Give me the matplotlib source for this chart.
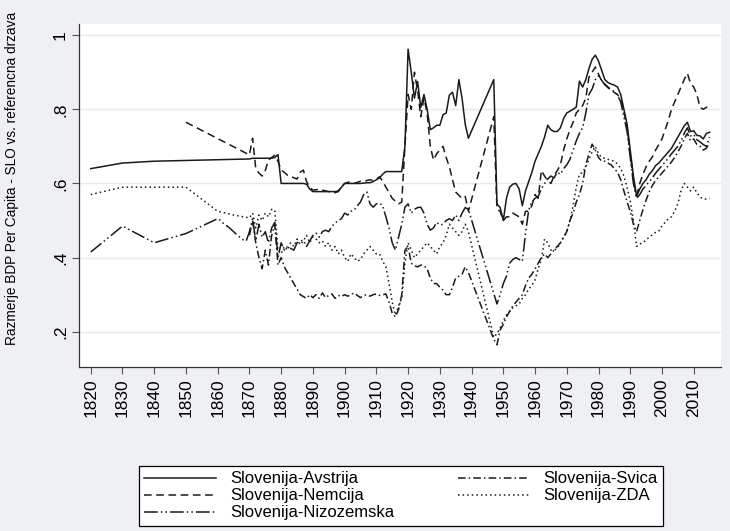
import numpy as np
import matplotlib.pyplot as plt

plt.rcParams['font.family'] = ['Liberation Sans', 'DejaVu Sans']

# ---- data: (year, ratio) ----
avstrija = [
    (1820, .640), (1830, .655), (1840, .660), (1850, .662), (1860, .664), (1870, .666),
    (1871, .668), (1872, .668), (1873, .668), (1874, .668), (1875, .668), (1876, .668),
    (1877, .668), (1878, .670), (1879, .678), (1880, .600), (1881, .600), (1882, .600),
    (1883, .600), (1884, .600), (1885, .600), (1886, .600), (1887, .600), (1888, .598),
    (1889, .585), (1890, .578), (1891, .578), (1892, .578), (1893, .578), (1894, .578),
    (1895, .578), (1896, .578), (1897, .578), (1898, .580), (1899, .590), (1900, .600),
    (1901, .600), (1902, .600), (1903, .600), (1904, .600), (1905, .600), (1906, .601),
    (1907, .602), (1908, .602), (1909, .605), (1910, .610), (1911, .615), (1912, .625),
    (1913, .632), (1914, .632), (1915, .632), (1916, .632), (1917, .632), (1918, .632),
    (1919, .700), (1920, .962), (1921, .900), (1922, .830), (1923, .875), (1924, .805),
    (1925, .840), (1926, .800), (1927, .745), (1928, .750), (1929, .757), (1930, .757),
    (1931, .785), (1932, .790), (1933, .838), (1934, .846), (1935, .810), (1936, .880),
    (1937, .830), (1938, .760), (1939, .722), (1947, .880), (1948, .545), (1949, .535),
    (1950, .500), (1951, .560), (1952, .590), (1953, .598), (1954, .600), (1955, .585),
    (1956, .540), (1957, .580), (1958, .605), (1959, .630), (1960, .660), (1961, .680),
    (1962, .700), (1963, .725), (1964, .757), (1965, .745), (1966, .740), (1967, .740),
    (1968, .750), (1969, .775), (1970, .790), (1971, .795), (1972, .800), (1973, .806),
    (1974, .876), (1975, .860), (1976, .880), (1977, .910), (1978, .935), (1979, .946),
    (1980, .930), (1981, .905), (1982, .880), (1983, .872), (1984, .868), (1985, .865),
    (1986, .860), (1987, .840), (1988, .800), (1989, .760), (1990, .690), (1991, .620),
    (1992, .565), (1993, .585), (1994, .600), (1995, .610), (1996, .625), (1997, .635),
    (1998, .648), (1999, .655), (2000, .665), (2001, .675), (2002, .685), (2003, .695),
    (2004, .710), (2005, .725), (2006, .740), (2007, .755), (2008, .765), (2009, .740),
    (2010, .742), (2011, .730), (2012, .728), (2013, .720), (2014, .735), (2015, .738),
]

nemcija = [
    (1850, .765), (1870, .677), (1871, .722), (1872, .640), (1873, .628), (1874, .620),
    (1875, .635), (1876, .663), (1877, .670), (1878, .676), (1879, .660), (1880, .636),
    (1881, .630), (1882, .622), (1883, .620), (1884, .615), (1885, .612), (1886, .630),
    (1887, .636), (1888, .605), (1889, .590), (1890, .582), (1891, .583), (1892, .585),
    (1893, .582), (1894, .580), (1895, .578), (1896, .577), (1897, .575), (1898, .578),
    (1899, .590), (1900, .600), (1901, .603), (1902, .605), (1903, .600), (1904, .603),
    (1905, .606), (1906, .605), (1907, .608), (1908, .610), (1909, .608), (1910, .612),
    (1911, .618), (1912, .606), (1913, .590), (1914, .575), (1915, .560), (1916, .552),
    (1917, .545), (1918, .550), (1919, .700), (1920, .840), (1921, .800), (1922, .900),
    (1923, .850), (1924, .780), (1925, .830), (1926, .790), (1927, .700), (1928, .663),
    (1929, .680), (1930, .690), (1931, .700), (1932, .670), (1933, .645), (1934, .610),
    (1935, .577), (1936, .568), (1937, .560), (1938, .565), (1939, .525), (1947, .780),
    (1948, .530), (1949, .525), (1950, .500), (1951, .510), (1952, .510), (1953, .520),
    (1954, .515), (1955, .510), (1956, .490), (1957, .525), (1958, .525), (1959, .540),
    (1960, .570), (1961, .560), (1962, .635), (1963, .620), (1964, .607), (1965, .600),
    (1966, .620), (1967, .635), (1968, .650), (1969, .690), (1970, .720), (1971, .745),
    (1972, .765), (1973, .790), (1974, .800), (1975, .810), (1976, .830), (1977, .887),
    (1978, .900), (1979, .914), (1980, .895), (1981, .876), (1982, .868), (1983, .860),
    (1984, .852), (1985, .845), (1986, .840), (1987, .825), (1988, .795), (1989, .750),
    (1990, .680), (1991, .610), (1992, .565), (1993, .600), (1994, .625), (1995, .645),
    (1996, .660), (1997, .672), (1998, .690), (1999, .705), (2000, .720), (2001, .745),
    (2002, .770), (2003, .800), (2004, .820), (2005, .840), (2006, .860), (2007, .880),
    (2008, .897), (2009, .870), (2010, .860), (2011, .840), (2012, .805), (2013, .800),
    (2014, .805), (2015, .815),
]

nizozemska = [
    (1820, .415), (1830, .485), (1840, .440), (1850, .465), (1860, .505), (1861, .500),
    (1862, .490), (1863, .485), (1864, .478), (1865, .470), (1866, .462), (1867, .455),
    (1868, .448), (1869, .445), (1870, .470), (1871, .505), (1872, .445), (1873, .490),
    (1874, .455), (1875, .470), (1876, .440), (1877, .480), (1878, .495), (1879, .400),
    (1880, .440), (1881, .420), (1882, .430), (1883, .425), (1884, .420), (1885, .440),
    (1886, .445), (1887, .447), (1888, .430), (1889, .445), (1890, .460), (1891, .466),
    (1892, .455), (1893, .470), (1894, .474), (1895, .470), (1896, .485), (1897, .493),
    (1898, .500), (1899, .505), (1900, .520), (1901, .515), (1902, .525), (1903, .528),
    (1904, .540), (1905, .550), (1906, .570), (1907, .577), (1908, .545), (1909, .536),
    (1910, .545), (1911, .547), (1912, .540), (1913, .510), (1914, .480), (1915, .440),
    (1916, .420), (1917, .455), (1918, .490), (1919, .536), (1920, .545), (1921, .520),
    (1922, .530), (1923, .535), (1924, .536), (1925, .520), (1926, .490), (1927, .474),
    (1928, .480), (1929, .495), (1930, .488), (1931, .490), (1932, .500), (1933, .505),
    (1934, .500), (1935, .515), (1936, .500), (1937, .520), (1938, .535), (1939, .530),
    (1948, .275), (1949, .300), (1950, .330), (1951, .350), (1952, .385), (1953, .395),
    (1954, .400), (1955, .395), (1956, .390), (1957, .465), (1958, .528), (1959, .550),
    (1960, .560), (1961, .565), (1962, .585), (1963, .600), (1964, .612), (1965, .620),
    (1966, .615), (1967, .630), (1968, .625), (1969, .640), (1970, .650), (1971, .665),
    (1972, .690), (1973, .715), (1974, .735), (1975, .750), (1976, .790), (1977, .840),
    (1978, .855), (1979, .880), (1980, .890), (1981, .878), (1982, .866), (1983, .858),
    (1984, .852), (1985, .848), (1986, .838), (1987, .820), (1988, .780), (1989, .740),
    (1990, .670), (1991, .600), (1992, .560), (1993, .570), (1994, .585), (1995, .595),
    (1996, .605), (1997, .615), (1998, .628), (1999, .638), (2000, .648), (2001, .658),
    (2002, .668), (2003, .680), (2004, .690), (2005, .700), (2006, .715), (2007, .735),
    (2008, .750), (2009, .728), (2010, .732), (2011, .718), (2012, .712), (2013, .705),
    (2014, .700), (2015, .725),
]

svica = [
    (1870, .460), (1871, .500), (1872, .440), (1873, .400), (1874, .370), (1875, .420),
    (1876, .380), (1877, .460), (1878, .490), (1879, .380), (1880, .400), (1881, .375),
    (1882, .360), (1883, .345), (1884, .330), (1885, .315), (1886, .300), (1887, .295),
    (1888, .290), (1889, .300), (1890, .292), (1891, .300), (1892, .290), (1893, .305),
    (1894, .292), (1895, .298), (1896, .302), (1897, .290), (1898, .298), (1899, .295),
    (1900, .300), (1901, .296), (1902, .300), (1903, .305), (1904, .298), (1905, .292),
    (1906, .298), (1907, .300), (1908, .296), (1909, .300), (1910, .302), (1911, .298),
    (1912, .300), (1913, .302), (1914, .280), (1915, .250), (1916, .240), (1917, .260),
    (1918, .300), (1919, .420), (1920, .430), (1921, .385), (1922, .378), (1923, .375),
    (1924, .380), (1925, .378), (1926, .370), (1927, .345), (1928, .330), (1929, .330),
    (1930, .320), (1931, .312), (1932, .300), (1933, .300), (1934, .320), (1935, .345),
    (1936, .350), (1937, .355), (1938, .375), (1939, .360), (1947, .180), (1948, .165),
    (1949, .205), (1950, .220), (1951, .240), (1952, .255), (1953, .270), (1954, .280),
    (1955, .290), (1956, .300), (1957, .325), (1958, .345), (1959, .355), (1960, .370),
    (1961, .385), (1962, .400), (1963, .410), (1964, .400), (1965, .410), (1966, .420),
    (1967, .430), (1968, .440), (1969, .455), (1970, .470), (1971, .500), (1972, .520),
    (1973, .550), (1974, .570), (1975, .600), (1976, .650), (1977, .680), (1978, .706),
    (1979, .690), (1980, .670), (1981, .660), (1982, .660), (1983, .655), (1984, .650),
    (1985, .640), (1986, .630), (1987, .610), (1988, .580), (1989, .550), (1990, .525),
    (1991, .490), (1992, .470), (1993, .500), (1994, .530), (1995, .555), (1996, .578),
    (1997, .595), (1998, .608), (1999, .618), (2000, .628), (2001, .638), (2002, .648),
    (2003, .658), (2004, .670), (2005, .685), (2006, .700), (2007, .720), (2008, .735),
    (2009, .715), (2010, .720), (2011, .705), (2012, .700), (2013, .690), (2014, .695),
    (2015, .710),
]

zda = [
    (1820, .570), (1830, .590), (1840, .590), (1850, .590), (1860, .525), (1865, .515),
    (1870, .507), (1871, .520), (1872, .480), (1873, .515), (1874, .500), (1875, .520),
    (1876, .510), (1877, .530), (1878, .528), (1879, .420), (1880, .410), (1881, .430),
    (1882, .420), (1883, .440), (1884, .430), (1885, .450), (1886, .435), (1887, .445),
    (1888, .460), (1889, .440), (1890, .456), (1891, .450), (1892, .440), (1893, .445),
    (1894, .430), (1895, .440), (1896, .420), (1897, .430), (1898, .410), (1899, .420),
    (1900, .400), (1901, .390), (1902, .410), (1903, .400), (1904, .390), (1905, .395),
    (1906, .410), (1907, .420), (1908, .430), (1909, .420), (1910, .410), (1911, .410),
    (1912, .390), (1913, .375), (1914, .330), (1915, .280), (1916, .245), (1917, .270),
    (1918, .290), (1919, .385), (1920, .440), (1921, .420), (1922, .400), (1923, .410),
    (1924, .420), (1925, .430), (1926, .440), (1927, .430), (1928, .420), (1929, .410),
    (1930, .430), (1931, .440), (1932, .460), (1933, .490), (1934, .480), (1935, .470),
    (1936, .460), (1937, .470), (1938, .490), (1939, .470), (1947, .185), (1948, .195),
    (1949, .210), (1950, .230), (1951, .245), (1952, .255), (1953, .265), (1954, .270),
    (1955, .275), (1956, .290), (1957, .300), (1958, .315), (1959, .325), (1960, .340),
    (1961, .370), (1962, .395), (1963, .450), (1964, .440), (1965, .420), (1966, .420),
    (1967, .425), (1968, .440), (1969, .455), (1970, .470), (1971, .500), (1972, .540),
    (1973, .590), (1974, .625), (1975, .630), (1976, .645), (1977, .665), (1978, .685),
    (1979, .700), (1980, .680), (1981, .670), (1982, .668), (1983, .665), (1984, .662),
    (1985, .660), (1986, .652), (1987, .640), (1988, .620), (1989, .590), (1990, .552),
    (1991, .500), (1992, .430), (1993, .437), (1994, .440), (1995, .448), (1996, .455),
    (1997, .462), (1998, .468), (1999, .472), (2000, .485), (2001, .495), (2002, .505),
    (2003, .510), (2004, .525), (2005, .545), (2006, .580), (2007, .600), (2008, .590),
    (2009, .580), (2010, .590), (2011, .575), (2012, .563), (2013, .558), (2014, .558),
    (2015, .560),
]

labels = ["Slovenija-Avstrija", "Slovenija-Nemcija", "Slovenija-Nizozemska",
          "Slovenija-Svica", "Slovenija-ZDA"]
styles = ["-", (0, (5, 3)), (0, (9, 2, 1, 2, 1, 2)), (0, (5, 2, 1, 2)), (0, (1, 2))]

y_ticks = [.2, .4, .6, .8, 1]
y_ticklabels = [".2", ".4", ".6", ".8", "1"]
x_ticks = list(range(1820, 2011, 10))

# ---- plotting ----
bg = "#eef0f3"
fig = plt.figure(figsize=(7.3, 5.31), dpi=100, facecolor=bg)
ax = fig.add_axes([79 / 730, 1 - 367 / 531, 642 / 730, 343 / 531])
ax.set_facecolor("white")

for series, lab, ls in zip([avstrija, nemcija, nizozemska, svica, zda], labels, styles):
    yrs, vals = zip(*series)
    ax.plot(yrs, vals, color="#1a1a1a", linestyle=ls, linewidth=1.1, label=lab)

ax.set_xlim(1816.3, 2018.6)
ax.set_ylim(0.105, 1.03)
ax.set_yticks(y_ticks)
ax.set_yticklabels(y_ticklabels, rotation=90, va="center", fontsize=12.5)
ax.set_xticks(x_ticks)
ax.set_xticklabels([str(t) for t in x_ticks], rotation=90, fontsize=12.5)
ax.grid(axis="y", color="#e8e8e8", linewidth=1)
ax.set_axisbelow(True)

for s in ["top", "right"]:
    ax.spines[s].set_visible(False)
for s in ["left", "bottom"]:
    ax.spines[s].set_color("#333333")
    ax.spines[s].set_linewidth(0.9)
ax.tick_params(direction="out", length=5, color="#555555", width=0.8, pad=3)

fig.text(12 / 730, 1 - 178 / 531, "Razmerje BDP Per Capita - SLO vs. referencna drzava",
         rotation=90, ha="center", va="center", fontsize=9.8)

leg = fig.legend(loc="upper center", bbox_to_anchor=(401 / 730, 1 - 466 / 531), ncol=2,
                 fontsize=12, frameon=True, fancybox=False, handlelength=4.3,
                 handletextpad=0.85, columnspacing=3.8, labelspacing=0.12,
                 borderpad=0.32, borderaxespad=0)
leg.get_frame().set_edgecolor("black")
leg.get_frame().set_linewidth(0.9)
leg.get_frame().set_facecolor("white")
leg.get_frame().set_alpha(1)

fig.savefig("out.png", dpi=100, facecolor=bg)
